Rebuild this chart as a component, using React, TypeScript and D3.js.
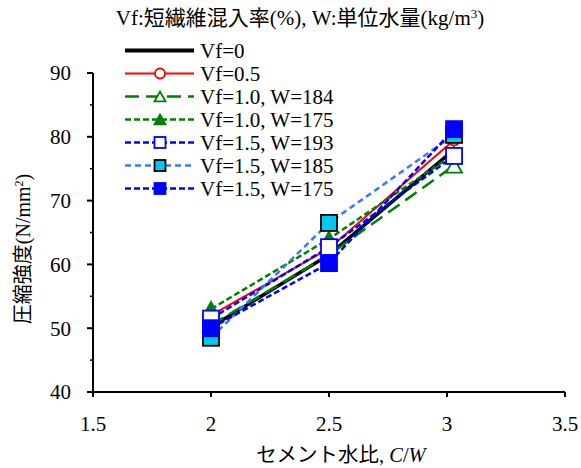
import React from "react"
import * as d3 from "d3"

// cement-water ratio for each test group
const cw = [2.0, 2.5, 3.03]

const vf0 = [50.2, 61.5, 78.0]
const vf05 = [52.0, 62.5, 79.5]
const vf10w184 = [50.5, 61.5, 75.5]
const vf10w175 = [53.0, 64.0, 77.3]
const vf15w193 = [51.5, 62.7, 77.0]
const vf15w185 = [48.5, 66.5, 80.3]
const vf15w175 = [50.0, 60.2, 81.2]

const seriesNames = [
    "Vf=0",
    "Vf=0.5",
    "Vf=1.0, W=184",
    "Vf=1.0, W=175",
    "Vf=1.5, W=193",
    "Vf=1.5, W=185",
    "Vf=1.5, W=175",
]
const seriesValues = [vf0, vf05, vf10w184, vf10w175, vf15w193, vf15w185, vf15w175]

const yTicks = [40, 50, 60, 70, 80, 90]
const yMinor = [45, 55, 65, 75, 85]
const xTicks = [1.5, 2, 2.5, 3, 3.5]

// look of each series: line colour, dash, width, marker
const styles = [
    { stroke: "#000", dash: null, width: 3.5, marker: "none", fill: "none", mstroke: "none" },
    { stroke: "#ff0000", dash: null, width: 2, marker: "circle", fill: "#fff", mstroke: "#ff0000" },
    { stroke: "#008000", dash: "14,7", width: 2.5, marker: "triangle", fill: "#fff", mstroke: "#008000" },
    { stroke: "#008000", dash: "6,3", width: 2.5, marker: "triangle", fill: "#008000", mstroke: "#008000" },
    { stroke: "#0000ff", dash: "6,3", width: 2.5, marker: "square", fill: "#fff", mstroke: "#0000ff" },
    { stroke: "#3a78ff", dash: "6,4", width: 2.5, marker: "square", fill: "#00c8f5", mstroke: "#000" },
    { stroke: "#0000ff", dash: "6,3", width: 2.5, marker: "square", fill: "#0000ff", mstroke: "#0000ff" },
]

const font = "'Times New Roman', 'Liberation Serif', 'DejaVu Serif', 'Noto Sans CJK JP'"

function Marker({ kind, x, y, size, fill, stroke }) {
    if (kind === "circle") {
        return <circle cx={x} cy={y} r={size / 2} fill={fill} stroke={stroke} strokeWidth={1.8} />
    }
    if (kind === "square") {
        return <rect x={x - size / 2} y={y - size / 2} width={size} height={size}
            fill={fill} stroke={stroke} strokeWidth={1.8} />
    }
    if (kind === "triangle") {
        const h = size * 0.9
        const p = [[x, y - h / 2], [x + size / 2, y + h / 2], [x - size / 2, y + h / 2]]
        return <polygon points={p.map(d => d.join(",")).join(" ")}
            fill={fill} stroke={stroke} strokeWidth={1.8} />
    }
    return null
}

export default function App() {
    const width = 581
    const height = 468
    const padding = { top: 73, right: 16, bottom: 76, left: 93 }

    const xScale = d3.scaleLinear()
        .domain([1.5, 3.5])
        .range([padding.left, width - padding.right])
    const yScale = d3.scaleLinear()
        .domain([40, 90])
        .range([height - padding.bottom, padding.top])

    const line = d3.line()
        .x(d => xScale(d[0]))
        .y(d => yScale(d[1]))

    const x0 = xScale(1.5)
    const y0 = yScale(40)

    return (
        <svg width={width} height={height} style={{ position: "absolute", left: 0, top: 0, fontFamily: font }}>
            <rect width={width} height={height} fill="#fff" />

            <text x={300} y={25} fontSize={21} textAnchor="middle">
                Vf:短繊維混入率(%), W:単位水量(kg/m<tspan dy={-7} fontSize={13}>3</tspan><tspan dy={7}>)</tspan>
            </text>

            {/* axes */}
            <line x1={x0} x2={xScale(3.5)} y1={y0} y2={y0} stroke="#000" strokeWidth={2} />
            <line x1={x0} x2={x0} y1={yScale(90)} y2={y0} stroke="#000" strokeWidth={2} />
            {yTicks.map(t => (
                <g key={t}>
                    <line x1={x0 - 6} x2={x0} y1={yScale(t)} y2={yScale(t)} stroke="#000" strokeWidth={2} />
                    <text x={71} y={yScale(t)} dy="0.35em" fontSize={21} textAnchor="end">{t}</text>
                </g>
            ))}
            {yMinor.map(t => (
                <line key={t} x1={x0 - 3} x2={x0} y1={yScale(t)} y2={yScale(t)} stroke="#000" strokeWidth={1.5} />
            ))}
            {xTicks.map(t => (
                <g key={t}>
                    <line x1={xScale(t)} x2={xScale(t)} y1={y0} y2={y0 + 5} stroke="#000" strokeWidth={2} />
                    <text x={xScale(t)} y={431} fontSize={21} textAnchor="middle">{t}</text>
                </g>
            ))}

            <text x={341} y={462} fontSize={20.5} textAnchor="middle">
                セメント水比, <tspan fontStyle="italic">C</tspan>/<tspan fontStyle="italic">W</tspan>
            </text>
            <text transform="translate(30,249) rotate(-90)" fontSize={20} textAnchor="middle">
                圧縮強度(N/mm<tspan dy={-7} fontSize={12}>2</tspan><tspan dy={7}>)</tspan>
            </text>

            {/* series */}
            {seriesValues.map((vals, i) => {
                const s = styles[i]
                const pts = vals.map((v, j) => [cw[j], v])
                return (
                    <g key={i}>
                        <path d={line(pts)} fill="none" stroke={s.stroke} strokeWidth={s.width}
                            strokeDasharray={s.dash || undefined} />
                        {pts.map((p, j) => (
                            <Marker key={j} kind={s.marker} x={xScale(p[0])} y={yScale(p[1])}
                                size={s.marker === "circle" ? 11 : 16} fill={s.fill} stroke={s.mstroke} />
                        ))}
                    </g>
                )
            })}

            {/* legend */}
            {seriesNames.map((name, i) => {
                const s = styles[i]
                const ly = 50.5 + i * 23
                return (
                    <g key={name}>
                        <line x1={125} x2={194} y1={ly} y2={ly} stroke={s.stroke} strokeWidth={i === 0 ? 4 : s.width}
                            strokeDasharray={s.dash || undefined} />
                        <Marker kind={s.marker} x={160} y={ly} size={s.marker === "circle" ? 10 : 11}
                            fill={s.fill} stroke={s.mstroke} />
                        <text x={200} y={ly} dy="0.35em" fontSize={21}>{name}</text>
                    </g>
                )
            })}
        </svg>
    )
}
